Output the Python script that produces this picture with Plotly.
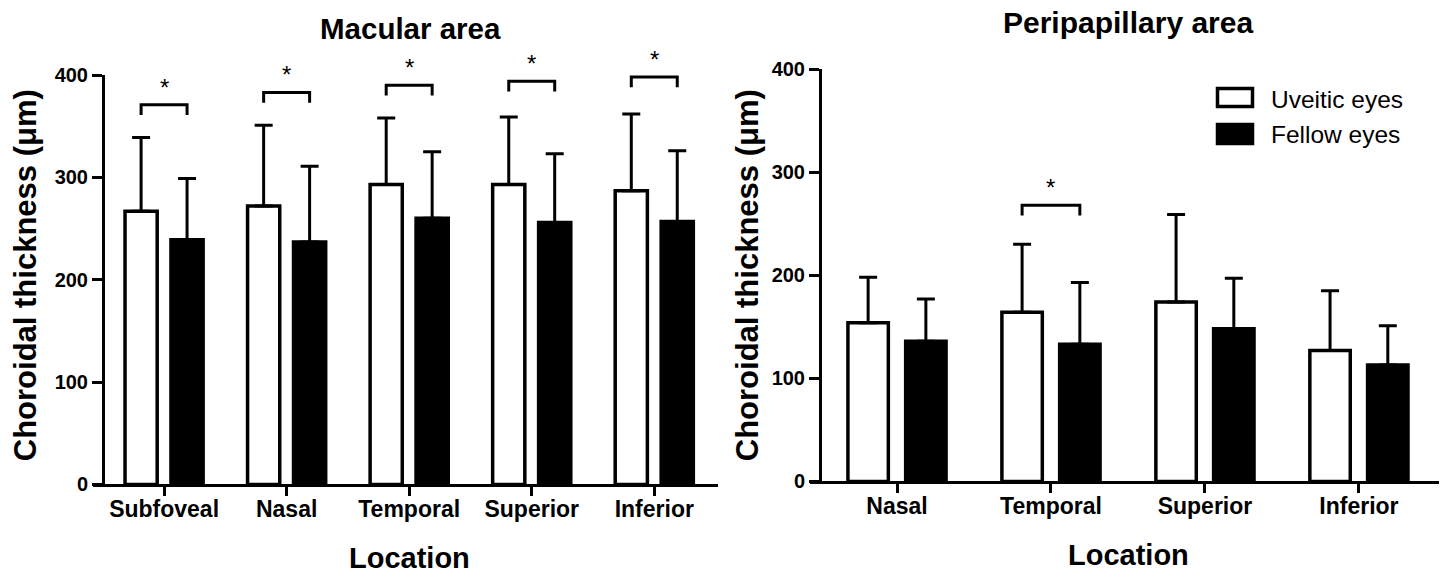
import plotly.graph_objects as go

W, H = 1447, 577

# ---------------- data ----------------
series_names = ["Uveitic eyes", "Fellow eyes"]

mac_categories = ["Subfoveal", "Nasal", "Temporal", "Superior", "Inferior"]
mac_uveitic = [267, 272, 293, 293, 287]
mac_uveitic_sd = [72, 79, 65, 66, 75]
mac_fellow = [239, 237, 260, 256, 257]
mac_fellow_sd = [60, 74, 65, 67, 69]
mac_bracket_y = [371, 383, 390, 394, 398]

ppa_categories = ["Nasal", "Temporal", "Superior", "Inferior"]
ppa_uveitic = [154, 164, 174, 127]
ppa_uveitic_sd = [44, 66, 85, 58]
ppa_fellow = [136, 133, 148, 113]
ppa_fellow_sd = [41, 60, 49, 38]
ppa_bracket_cat = ["Temporal"]
ppa_bracket_y = [268]

y_ticks = [0, 100, 200, 300, 400]
Y_MAX = 400

FONT = "Liberation Sans, Arial, Helvetica, sans-serif"
BARGAP = 0.25
OFF = (1 - BARGAP) / 4  # center offset of each bar in a 2-bar group

# the captured page is squeezed vertically: screen_y = V0 + VS * page_y
V0, VS = 12.0, 0.961


def px_x(x):
    return x / W


def page_y(y):
    return (y - V0) / VS


def px_y(y):
    return 1 - page_y(y) / H


Y1_DOM = [px_y(485), px_y(76)]
Y2_DOM = [px_y(482), px_y(70)]

fig = go.Figure()


def add_bars(cats, u, usd, f, fsd, xa, ya):
    idx = list(range(len(cats)))
    fig.add_trace(go.Bar(
        x=idx, y=u, name=series_names[0], xaxis=xa, yaxis=ya,
        marker=dict(color="white", line=dict(color="black", width=3.5)),
        error_y=dict(type="data", array=usd, arrayminus=[0] * len(usd), symmetric=False,
                     color="black", thickness=3, width=9),
        showlegend=False))
    fig.add_trace(go.Bar(
        x=idx, y=f, name=series_names[1], xaxis=xa, yaxis=ya,
        marker=dict(color="black", line=dict(color="black", width=3.5)),
        error_y=dict(type="data", array=fsd, arrayminus=[0] * len(fsd), symmetric=False,
                     color="black", thickness=3, width=9),
        showlegend=False))


add_bars(mac_categories, mac_uveitic, mac_uveitic_sd, mac_fellow, mac_fellow_sd, "x", "y")
add_bars(ppa_categories, ppa_uveitic, ppa_uveitic_sd, ppa_fellow, ppa_fellow_sd, "x2", "y2")

annotations = []


def add_bracket(i, top, xa, ya, dom):
    leg = top - 10
    fig.add_trace(go.Scatter(
        x=[i - OFF, i - OFF, i + OFF, i + OFF], y=[leg, top, top, leg],
        mode="lines", line=dict(color="black", width=3), xaxis=xa, yaxis=ya,
        showlegend=False, hoverinfo="skip", cliponaxis=False))
    yp = dom[0] + (top / Y_MAX) * (dom[1] - dom[0]) + (17.5 / VS) / H
    annotations.append(dict(
        x=i, y=yp, xref=xa, yref="paper", text="*", showarrow=False,
        font=dict(family=FONT, size=24, color="black"), yanchor="middle", xanchor="center"))


for i, yb in enumerate(mac_bracket_y):
    add_bracket(i, yb, "x", "y", Y1_DOM)
for c, yb in zip(ppa_bracket_cat, ppa_bracket_y):
    add_bracket(ppa_categories.index(c), yb, "x2", "y2", Y2_DOM)

axis_common = dict(showline=True, linecolor="black", linewidth=3, ticks="outside",
                   tickcolor="black", tickwidth=3, showgrid=False, zeroline=False,
                   mirror=False)

fig.update_layout(
    width=W, height=H, autosize=False,
    margin=dict(l=0, r=0, t=0, b=0),
    paper_bgcolor="white", plot_bgcolor="white",
    barmode="group", bargap=BARGAP, bargroupgap=0.3,
    font=dict(family=FONT, color="black"),
    xaxis=dict(domain=[px_x(93), px_x(718)], range=[-0.58, 4.52], anchor="y",
               tickmode="array", tickvals=list(range(len(mac_categories))),
               ticktext=mac_categories, ticklen=9, ticklabelstandoff=-7,
               tickfont=dict(family=FONT, size=23, weight="bold", color="black"),
               **axis_common),
    yaxis=dict(domain=Y1_DOM, range=[0, Y_MAX], anchor="free",
               position=px_x(103), tickmode="array", tickvals=y_ticks, ticklen=10,
               tickfont=dict(family=FONT, size=20, weight="bold", color="black"),
               **axis_common),
    xaxis2=dict(domain=[px_x(810), px_x(1439)], range=[-0.565, 3.52], anchor="y2",
                tickmode="array", tickvals=list(range(len(ppa_categories))),
                ticktext=ppa_categories, ticklen=9, ticklabelstandoff=-7,
                tickfont=dict(family=FONT, size=23, weight="bold", color="black"),
                **axis_common),
    yaxis2=dict(domain=Y2_DOM, range=[0, Y_MAX], anchor="free",
                position=px_x(820), tickmode="array", tickvals=y_ticks, ticklen=10,
                tickfont=dict(family=FONT, size=20, weight="bold", color="black"),
                **axis_common),
)


def txt(x, y, s, size, bold=True, angle=0, xanchor="center", page=False):
    yy = 1 - y / H if page else px_y(y)
    annotations.append(dict(
        x=px_x(x), y=yy, xref="paper", yref="paper", text=s, showarrow=False,
        textangle=angle, xanchor=xanchor, yanchor="middle",
        font=dict(family=FONT, size=size, color="black", weight="bold" if bold else "normal")))


txt(410, 29.5, "Macular area", 29.5)
txt(1128, 23.5, "Peripapillary area", 30)
txt(409, 569, "Location", 29, page=True)
txt(1128, 555.5, "Location", 29)
txt(25, 276, "Choroidal thickness (μm)", 31, angle=-90)
txt(747, 276, "Choroidal thickness (μm)", 31, angle=-90)

# legend drawn manually
shapes = [
    dict(type="rect", xref="paper", yref="paper", x0=px_x(1217.5), x1=px_x(1252.5),
         y0=px_y(107.5), y1=px_y(89.5), fillcolor="white", line=dict(color="black", width=3.5)),
    dict(type="rect", xref="paper", yref="paper", x0=px_x(1217.5), x1=px_x(1252.5),
         y0=px_y(144.5), y1=px_y(125.5), fillcolor="black", line=dict(color="black", width=3.5)),
]
txt(1269, 100, series_names[0], 24.5, bold=False, xanchor="left")
txt(1269, 135, series_names[1], 24.5, bold=False, xanchor="left")

fig.update_layout(annotations=annotations, shapes=shapes)

post = ("document.documentElement.style.margin='0';"
        "document.documentElement.style.padding='0';"
        "document.documentElement.style.overflow='hidden';"
        "document.body.style.margin='0';"
        "document.body.style.padding='0';"
        "document.body.style.overflow='hidden';"
        "var gd=document.getElementById('{plot_id}'); if(gd){gd.style.display='block';}")

fig.write_html("out.html", config={"displayModeBar": False}, post_script=post)
